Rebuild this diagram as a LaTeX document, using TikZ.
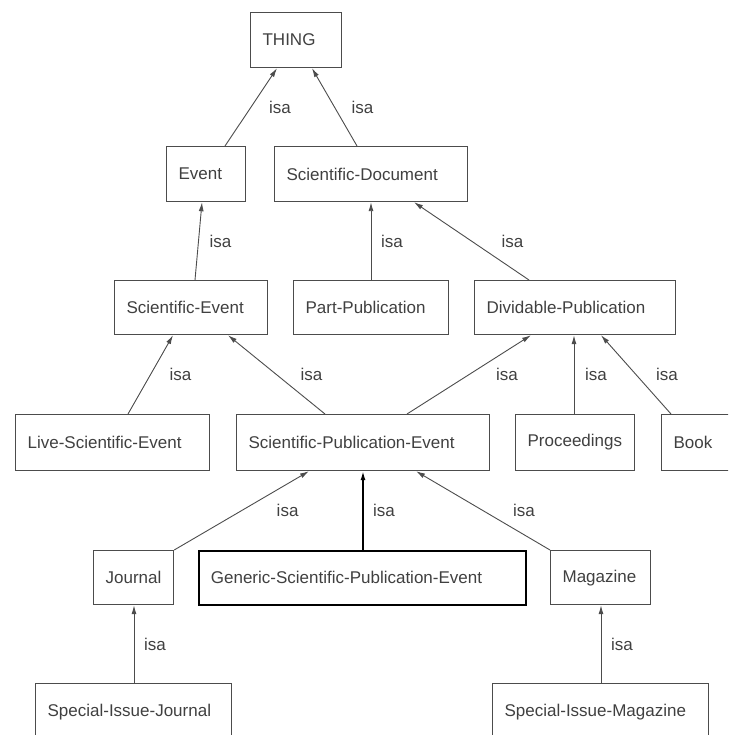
\documentclass[tikz,border=0pt]{standalone}
\usepackage{fontspec}
\setmainfont{Liberation Sans}
\usetikzlibrary{arrows.meta,calc}
\definecolor{linegray}{gray}{0.3}
\definecolor{textgray}{gray}{0.25}
\begin{document}
\begin{tikzpicture}[x=1pt,y=-1pt,
	box/.style={draw=linegray,line width=1.2pt,anchor=north west,align=left,inner xsep=12pt,inner ysep=0pt,text=textgray,font=\fontsize{17}{20}\selectfont},
	isaedge/.style={draw=linegray,line width=0.9pt,-{Latex[length=9pt,width=5pt]}},
	isalabel/.style={text=textgray,font=\fontsize{17}{20}\selectfont}]
\clip (0,0) rectangle (728,735);

	\node[box,text width=67pt,minimum height=55pt](thing) at (250,12){THING};
	\node[box,text width=55pt,minimum height=55pt](event) at (166,146){Event};
	\node[box,text width=169pt,minimum height=55pt](scidoc) at (274,146){Scientific-Document};
	\draw[isaedge]($(event.north west)+(59,0)$)--($(thing.south west)+(27,0)$)node[isalabel,midway,xshift=29]{isa};
	\draw[isaedge]($(scidoc.north west)+(83,0)$)--($(thing.south west)+(62,0)$)node[isalabel,midway,xshift=28]{isa};

	\node[box,text width=129pt,minimum height=54pt](scievent) at (114,280){Scientific-Event};
	\node[box,text width=131pt,minimum height=54pt](partpub) at (293,280){Part-Publication};
	\node[box,text width=177pt,minimum height=54pt](divpub) at (474,280){Dividable-Publication};
	\draw[isaedge]($(scievent.north west)+(81,0)$)--($(event.south west)+(36,0)$)node[isalabel,midway,xshift=22]{isa};
	\draw[isaedge]($(partpub.north west)+(78,0)$)--($(scidoc.south west)+(97,0)$)node[isalabel,midway,xshift=21]{isa};
	\draw[isaedge]($(divpub.north west)+(55,0)$)--($(scidoc.south west)+(140,0)$)node[isalabel,midway,xshift=41]{isa};

\node[box,text width=170pt,minimum height=56pt](livesci) at (15,414){Live-Scientific-Event};
\node[box,text width=229pt,minimum height=56pt](scipubevent) at (236,414){Scientific-Publication-Event};
\node[box,text width=95pt,minimum height=56pt](proceedings) at (515,414){Proceedings};
\node[box,text width=66pt,minimum height=56pt](book) at (661,414){Book};
\draw[isaedge]($(livesci.north west)+(113,0)$)--($(scievent.south west)+(59,0)$)node[isalabel,midway,xshift=30]{isa};
\draw[isaedge]($(scipubevent.north west)+(89,0)$)--($(scievent.south west)+(114,0)$)node[isalabel,midway,xshift=35]{isa};
\draw[isaedge]($(scipubevent.north west)+(171,0)$)--($(divpub.south west)+(57,0)$)node[isalabel,midway,xshift=38]{isa};
\draw[isaedge]($(proceedings.north west)+(59,0)$)--($(divpub.south west)+(100,0)$)node[isalabel,midway,xshift=22]{isa};
\draw[isaedge]($(book.north west)+(10,0)$)--($(divpub.south west)+(127,0)$)node[isalabel,midway,xshift=31]{isa};

	\node[box,text width=56pt,minimum height=54pt](journal) at (93,550){Journal};
	\node[box,draw=black,line width=1.8pt,text width=303pt,minimum height=54pt](generic) at (198,550){Generic-Scientific-Publication-Event};
	\node[box,text width=76pt,minimum height=54pt](magazine) at (550,550){Magazine};
	\draw[isaedge](journal.north east)--($(scipubevent.south west)+(73,0)$)node[isalabel,midway,xshift=46]{isa};
	\draw[isaedge,draw=black,line width=1.4pt]($(generic.north west)+(165,0)$)--($(scipubevent.south west)+(127,0)$)node[isalabel,midway,xshift=21]{isa};
	\draw[isaedge](magazine.north west)--($(scipubevent.south west)+(180,0)$)node[isalabel,midway,xshift=41]{isa};

\node[box,text width=172pt,minimum height=56pt](sijournal) at (35,683){Special-Issue-Journal};
\node[box,text width=192pt,minimum height=56pt](simagazine) at (492,683){Special-Issue-Magazine};
\draw[isaedge]($(sijournal.north west)+(99,0)$)--($(journal.south west)+(41,0)$)node[isalabel,midway,xshift=21]{isa};
\draw[isaedge]($(simagazine.north west)+(109,0)$)--($(magazine.south west)+(51,0)$)node[isalabel,midway,xshift=21]{isa};
\end{tikzpicture}
\end{document}
